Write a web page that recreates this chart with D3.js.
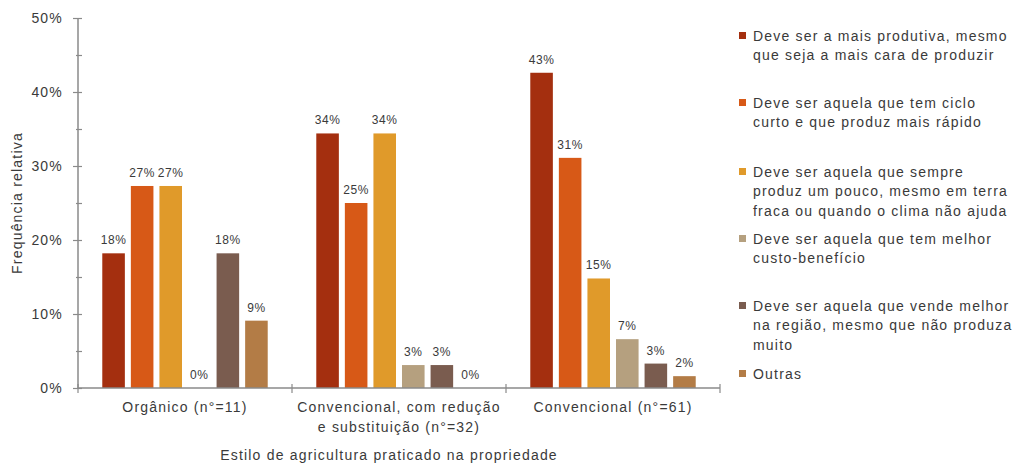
<!DOCTYPE html>
<html>
<head>
<meta charset="utf-8">
<script src="https://cdn.jsdelivr.net/npm/d3@7"></script>
<style>
  body { margin: 0; background: #fff; }
  text { font-family: "Liberation Sans", Arial, sans-serif; fill: #3a3a3a; letter-spacing: 1.2px; }
  text.val { letter-spacing: 0.6px; }
</style>
</head>
<body>
<div id="wrapper"></div>
<script>
const categories = [
  ["Orgânico (n°=11)"],
  ["Convencional, com redução", "e substituição (n°=32)"],
  ["Convencional (n°=61)"]
];
const seriesNames = [
  ["Deve ser a mais produtiva, mesmo", "que seja a mais cara de produzir"],
  ["Deve ser aquela que tem ciclo", "curto e que produz mais rápido"],
  ["Deve ser aquela que sempre", "produz um pouco, mesmo em terra", "fraca ou quando o clima não ajuda"],
  ["Deve ser aquela que tem melhor", "custo-benefício"],
  ["Deve ser aquela que vende melhor", "na região, mesmo que não produza", "muito"],
  ["Outras"]
];
// percent values per category, one per series
const organico = [18.2, 27.3, 27.3, 0, 18.2, 9.1];
const reducao = [34.4, 25.0, 34.4, 3.1, 3.1, 0];
const convencional = [42.6, 31.1, 14.8, 6.6, 3.3, 1.6];
const yTicks = [0, 10, 20, 30, 40, 50];
const colors = ["#a42f0f", "#d75917", "#e09a2a", "#b5a07f", "#7a5c4f", "#b37c46"];

const values = [organico, reducao, convencional];

var dimension = {
  width: 1014,
  height: 463,
  margin: { top: 18, left: 78, right: 294, bottom: 75 }
}
dimension.boundedWidth = dimension.width - dimension.margin.left - dimension.margin.right;
dimension.boundedHeight = dimension.height - dimension.margin.top - dimension.margin.bottom;

const svg = d3.select("#wrapper")
  .append("svg")
  .attr("width", dimension.width)
  .attr("height", dimension.height)

const bounds = svg.append("g")
  .attr("transform", `translate(${dimension.margin.left},${dimension.margin.top})`)

var x0 = d3.scaleBand()
  .domain(d3.range(categories.length))
  .range([0, dimension.boundedWidth])

var x1 = d3.scaleBand()
  .domain(d3.range(seriesNames.length))
  .range([0, x0.bandwidth()])
  .paddingInner(0.21)
  .paddingOuter(0.85)

var y = d3.scaleLinear()
  .domain([0, 50])
  .range([dimension.boundedHeight, 0])

// bars
const groups = bounds.selectAll("g.cat")
  .data(values)
  .enter()
  .append("g")
  .attr("class", "cat")
  .attr("transform", (d, i) => `translate(${x0(i)},0)`)

groups.selectAll("rect")
  .data(d => d)
  .enter()
  .append("rect")
  .attr("x", (d, i) => x1(i))
  .attr("width", x1.bandwidth())
  .attr("y", d => y(d))
  .attr("height", d => dimension.boundedHeight - y(d))
  .style("fill", (d, i) => colors[i])

groups.selectAll("text.val")
  .data(d => d)
  .enter()
  .append("text")
  .attr("class", "val")
  .attr("x", (d, i) => x1(i) + x1.bandwidth() / 2)
  .attr("y", d => y(d) - 9)
  .attr("text-anchor", "middle")
  .style("font-size", "12px")
  .text(d => Math.round(d) + "%")

// y axis
const axisColor = "#8a8a8a";
const yAxis = bounds.append("g")
  .call(d3.axisLeft(y).tickValues(d3.range(0, 55, 5)).tickSize(5).tickFormat(""))
yAxis.select(".domain").remove()
yAxis.selectAll(".tick line").attr("x2", 4).attr("x1", d => d % 10 == 0 ? -5 : -2).attr("stroke", axisColor).attr("stroke-width", 1.2)
bounds.append("line")
  .attr("x1", 0).attr("x2", 0)
  .attr("y1", y(50)).attr("y2", y(0))
  .attr("stroke", axisColor).attr("stroke-width", 1.5)

bounds.selectAll("text.ytick")
  .data(yTicks)
  .enter()
  .append("text")
  .attr("class", "ytick")
  .attr("x", -15)
  .attr("y", d => y(d))
  .attr("dy", "0.35em")
  .attr("text-anchor", "end")
  .style("font-size", "14px")
  .text(d => d + "%")

// x axis
bounds.append("line")
  .attr("x1", 0).attr("x2", dimension.boundedWidth)
  .attr("y1", y(0)).attr("y2", y(0))
  .attr("stroke", axisColor).attr("stroke-width", 1.5)

bounds.selectAll("line.xtick")
  .data(d3.range(categories.length + 1))
  .enter()
  .append("line")
  .attr("class", "xtick")
  .attr("x1", d => d * x0.step()).attr("x2", d => d * x0.step())
  .attr("y1", y(0) - 4).attr("y2", y(0) + 5)
  .attr("stroke", axisColor).attr("stroke-width", 1.2)

const catLabels = bounds.selectAll("text.cat")
  .data(categories)
  .enter()
  .append("text")
  .attr("class", "cat")
  .attr("text-anchor", "middle")
  .style("font-size", "14px")
  .attr("transform", (d, i) => `translate(${x0(i) + x0.bandwidth() / 2},${dimension.boundedHeight + 24})`)

catLabels.selectAll("tspan")
  .data(d => d)
  .enter()
  .append("tspan")
  .attr("x", 0)
  .attr("y", (d, i) => i * 20)
  .text(d => d)

// axis titles
svg.append("text")
  .attr("text-anchor", "middle")
  .attr("transform", "translate(22,203) rotate(-90)")
  .style("font-size", "14px")
  .text("Frequência relativa")

svg.append("text")
  .attr("text-anchor", "middle")
  .attr("x", 389)
  .attr("y", 460)
  .style("font-size", "14px")
  .text("Estilo de agricultura praticado na propriedade")

// legend
const legendTop = [36, 103, 172, 239, 306, 374];
const legend = svg.selectAll("g.legend")
  .data(seriesNames)
  .enter()
  .append("g")
  .attr("class", "legend")
  .attr("transform", (d, i) => `translate(739,${legendTop[i]})`)

legend.append("rect")
  .attr("x", 0)
  .attr("y", -4)
  .attr("width", 7)
  .attr("height", 7)
  .style("fill", (d, i) => colors[i])

legend.append("text")
  .style("font-size", "14px")
  .selectAll("tspan")
  .data(d => d)
  .enter()
  .append("tspan")
  .attr("x", 14)
  .attr("y", (d, i) => i * 19.5)
  .attr("dy", "0.35em")
  .text(d => d)
</script>
</body>
</html>
